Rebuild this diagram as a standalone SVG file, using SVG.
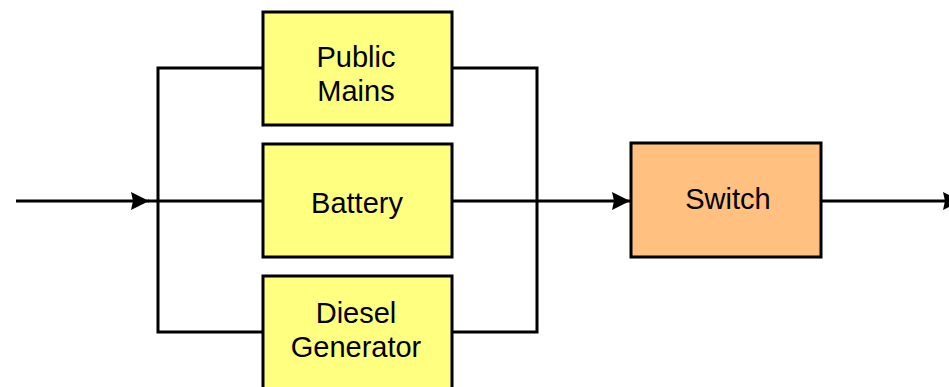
<svg xmlns="http://www.w3.org/2000/svg" width="949" height="387" viewBox="0 0 949 387">
<style>
.box{stroke:#000;stroke-width:3}
.y{fill:#ffff80}
.o{fill:#ffc080}
.t{font-family:"Liberation Sans",Arial,sans-serif;font-size:29px;fill:#000;text-anchor:middle}
.c{fill:none;stroke:#000;stroke-width:3}
</style>
<defs>
<marker id="ah" markerWidth="18" markerHeight="18" refX="18" refY="9" orient="auto" markerUnits="userSpaceOnUse">
<path d="M0,0 L18,9 L0,18 L2,9 Z" fill="#000"/>
</marker>
</defs>
<g id="connectors">
<line class="c" x1="16" y1="201" x2="149" y2="201" marker-end="url(#ah)"/>
<line class="c" x1="148" y1="201" x2="263" y2="201"/>
<polyline class="c" points="263,68 158,68 158,332 263,332"/>
<polyline class="c" points="452,68 537,68 537,332 452,332"/>
<line class="c" x1="452" y1="201" x2="630" y2="201" marker-end="url(#ah)"/>
<line class="c" x1="821" y1="201" x2="961" y2="201" marker-end="url(#ah)"/>
</g>
<g id="public-mains">
<rect class="box y" x="263" y="12" width="189" height="113"/>
<text class="t" x="356" y="67">Public</text>
<text class="t" x="356" y="101">Mains</text>
</g>
<g id="battery">
<rect class="box y" x="263" y="144" width="189" height="113"/>
<text class="t" x="357" y="213">Battery</text>
</g>
<g id="diesel-generator">
<rect class="box y" x="263" y="276" width="189" height="120"/>
<text class="t" x="356" y="323">Diesel</text>
<text class="t" x="356" y="357">Generator</text>
</g>
<g id="switch">
<rect class="box o" x="631" y="143" width="190" height="114"/>
<text class="t" x="728" y="209">Switch</text>
</g>
</svg>
